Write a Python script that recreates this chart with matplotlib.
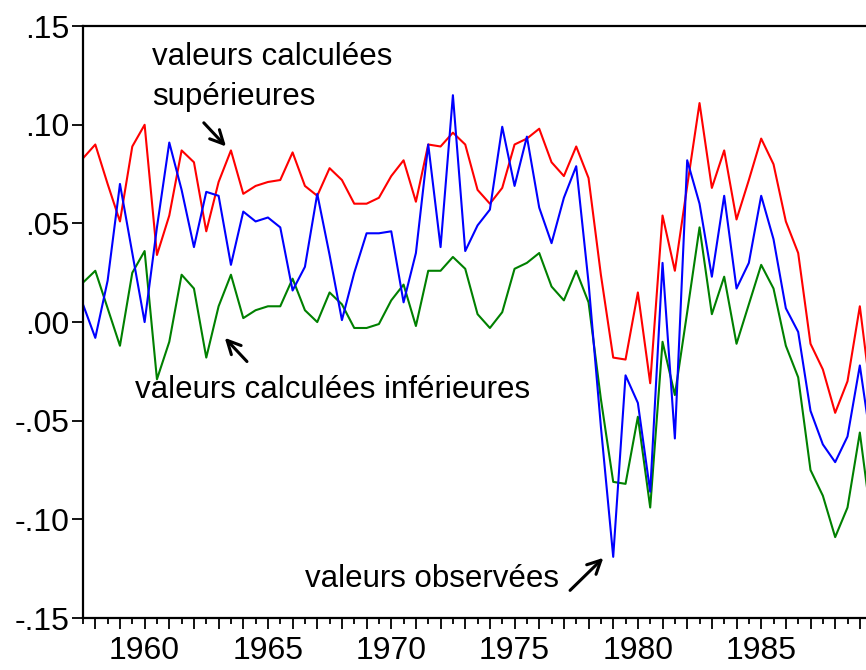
import numpy as np
import matplotlib
matplotlib.use("Agg")
import matplotlib.pyplot as plt
from matplotlib.ticker import MultipleLocator, FuncFormatter

plt.rcParams['font.family'] = ['Liberation Sans', 'DejaVu Sans']

# semestrial observations, 1957S2 .. 1989S2
periodes = np.arange(1957.5, 1990.0, 0.5)

observees = [0.009, -0.008, 0.021, 0.070, 0.035, 0.000, 0.048, 0.091, 0.067, 0.038,
             0.066, 0.064, 0.029, 0.056, 0.051, 0.053, 0.048, 0.016, 0.028, 0.065,
             0.034, 0.001, 0.025, 0.045, 0.045, 0.046, 0.010, 0.035, 0.090, 0.038,
             0.115, 0.036, 0.049, 0.057, 0.099, 0.069, 0.094, 0.058, 0.040, 0.063,
             0.079, 0.020, -0.053, -0.119, -0.027, -0.041, -0.086, 0.030, -0.059, 0.082,
             0.060, 0.023, 0.064, 0.017, 0.030, 0.064, 0.042, 0.007, -0.005, -0.045,
             -0.062, -0.071, -0.058, -0.022, -0.065]

superieures = [0.083, 0.090, 0.070, 0.051, 0.089, 0.100, 0.034, 0.054, 0.087, 0.081,
               0.046, 0.071, 0.087, 0.065, 0.069, 0.071, 0.072, 0.086, 0.069, 0.064,
               0.078, 0.072, 0.060, 0.060, 0.063, 0.074, 0.082, 0.061, 0.090, 0.089,
               0.096, 0.090, 0.067, 0.060, 0.068, 0.090, 0.093, 0.098, 0.081, 0.074,
               0.089, 0.073, 0.024, -0.018, -0.019, 0.015, -0.031, 0.054, 0.026, 0.069,
               0.111, 0.068, 0.087, 0.052, 0.072, 0.093, 0.080, 0.051, 0.035, -0.011,
               -0.024, -0.046, -0.030, 0.008, -0.042]

inferieures = [0.020, 0.026, 0.007, -0.012, 0.025, 0.036, -0.029, -0.010, 0.024, 0.017,
               -0.018, 0.008, 0.024, 0.002, 0.006, 0.008, 0.008, 0.022, 0.006, 0.000,
               0.015, 0.009, -0.003, -0.003, -0.001, 0.011, 0.019, -0.002, 0.026, 0.026,
               0.033, 0.027, 0.004, -0.003, 0.005, 0.027, 0.030, 0.035, 0.018, 0.011,
               0.026, 0.010, -0.039, -0.081, -0.082, -0.048, -0.094, -0.010, -0.037, 0.005,
               0.048, 0.004, 0.023, -0.011, 0.009, 0.029, 0.017, -0.012, -0.028, -0.075,
               -0.088, -0.109, -0.094, -0.056, -0.104]

fig = plt.figure(figsize=(8.66, 6.70), dpi=100)
ax = fig.add_axes([0.0958, 0.0776, 0.9042, 0.8834])

ax.plot(periodes, superieures, color='#ff0000', lw=1.5)
ax.plot(periodes, inferieures, color='#008000', lw=1.5)
ax.plot(periodes, observees, color='#0000ff', lw=1.5)

ax.set_xlim(1957.5, 1989.25)
ax.set_ylim(-0.15, 0.15)

ax.yaxis.set_major_locator(MultipleLocator(0.05))
ax.yaxis.set_major_formatter(FuncFormatter(
    lambda v, p: ('-' if v < -1e-9 else '') + f"{abs(v):.2f}".lstrip('0')))
ax.xaxis.set_major_locator(MultipleLocator(1))
ax.xaxis.set_minor_locator(MultipleLocator(0.5))
ax.xaxis.set_major_formatter(FuncFormatter(
    lambda v, p: f"{int(round(v))}" if round(v) % 5 == 0 else ""))

for s in ['left', 'bottom', 'top']:
    ax.spines[s].set_linewidth(1.6)
ax.spines['right'].set_visible(False)

ax.tick_params(axis='y', direction='out', length=8, width=1.3, labelsize=23, pad=2)
ax.tick_params(axis='x', which='major', direction='out', length=8, width=1.3, pad=5)
ax.tick_params(axis='x', which='minor', direction='out', length=4, width=1.3)
for lab in ax.get_xticklabels():
    lab.set_fontfamily(['Liberation Sans Narrow', 'Liberation Sans'])
    lab.set_fontsize(23)

txt = dict(fontsize=22.5, ha='left', va='center', color='black')
ax.text(1960.30, 0.1344, "valeurs calculées", **txt)
ax.text(1960.30, 0.1140, "supérieures", **txt)
ax.text(1959.61, -0.0346, "valeurs calculées inférieures", **txt)
ax.text(1966.50, -0.1303, "valeurs observées", **txt)

arr = dict(arrowstyle='->', lw=2.2, color='black', mutation_scale=24,
           shrinkA=0, shrinkB=0)
ax.annotate("", xy=(1963.30, 0.0890), xytext=(1962.40, 0.1010), arrowprops=arr)
ax.annotate("", xy=(1963.25, -0.0080), xytext=(1964.15, -0.0200), arrowprops=arr)
ax.annotate("", xy=(1978.60, -0.1195), xytext=(1977.25, -0.1360), arrowprops=arr)

fig.savefig("out.png", dpi=100)
